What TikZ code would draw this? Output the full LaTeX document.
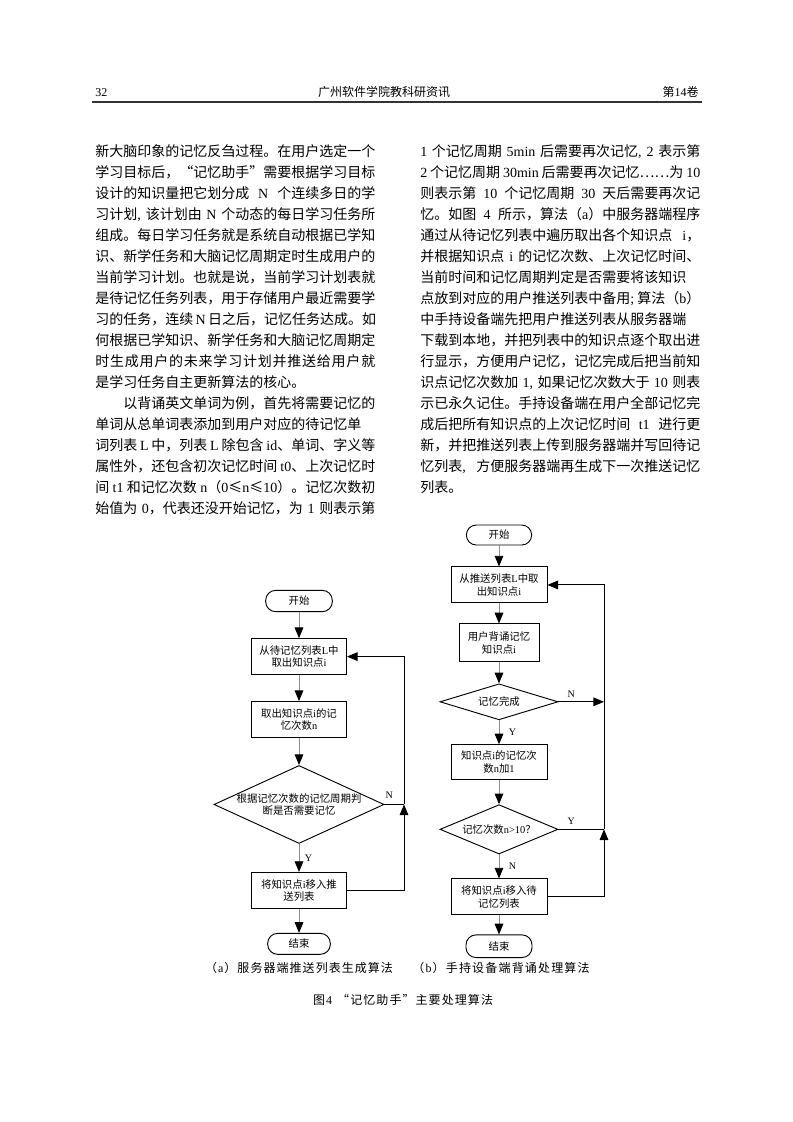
\documentclass[tikz,border=0pt]{standalone}
\usepackage{fontspec}
\setmainfont{Liberation Serif}
\newfontfamily\cjkfont{Noto Sans CJK SC}
\usetikzlibrary{positioning, shapes.geometric, arrows.meta}

% Chinese text in the CJK font, Latin text in the serif font
\XeTeXlinebreaklocale "zh"
\XeTeXlinebreakskip=0pt plus 1pt minus 0.15pt
\newXeTeXintercharclass\cjkclass
\makeatletter
\newcommand\cjkrange[2]{%
  \@tempcnta=#1\relax
  \loop
    \XeTeXcharclass\@tempcnta=\cjkclass
    \ifnum\@tempcnta<#2\relax
    \advance\@tempcnta\@ne
  \repeat}
% letter-spaced text: stretchable glue between all characters
\newcommand\spreadchars[1]{\spread@#1\@nil}
\def\spread@#1#2{#1\ifx#2\@nil\else\hskip 0pt plus 1fil\relax\expandafter\spread@\expandafter#2\fi}
\makeatother
\cjkrange{"3000}{"303F}
\cjkrange{"4E00}{"9FFF}
\cjkrange{"FF00}{"FFEF}
\XeTeXcharclass"201C=\cjkclass
\XeTeXcharclass"201D=\cjkclass
\XeTeXcharclass"2026=\cjkclass
\XeTeXcharclass"2264=\cjkclass
\XeTeXinterchartoks 0 \cjkclass = {\cjkfont}
\XeTeXinterchartoks 4095 \cjkclass = {\cjkfont}
\XeTeXinterchartoks \cjkclass 0 = {\rmfamily}
\XeTeXinterchartoks \cjkclass 4095 = {\rmfamily}
\XeTeXinterchartokenstate=1

\newcommand\bodyfont{\fontsize{10.5pt}{15.75pt}\selectfont}
\newcommand\chartfont{\fontsize{7.8pt}{9.4pt}\selectfont}
\newcommand\headfont{\fontsize{9pt}{11pt}\selectfont}

\begin{document}
\begin{tikzpicture}[x=0.75pt,y=-0.75pt,node distance=19.5pt,
    >={Triangle[length=8pt,width=6.5pt,color=black]}]
			\tikzstyle{terminal}=[draw,line width=0.7pt,rounded corners=7.5pt,minimum width=50pt,minimum height=16pt,inner sep=0pt,font=\chartfont]
			\tikzstyle{process}=[draw,line width=0.7pt,minimum width=71.25pt,minimum height=27pt,inner sep=0pt,align=center,font=\chartfont]
			\tikzstyle{decision}=[draw,line width=0.7pt,diamond,inner sep=0pt,align=center,font=\chartfont]
			\tikzstyle{flow}=[draw=black!45,line width=0.7pt,->]
			\tikzstyle{backline}=[draw,line width=0.7pt]
			\tikzstyle{yn}=[font=\fontsize{7.5pt}{9pt}\selectfont,inner sep=3pt]
			\tikzstyle{bodyline}=[anchor=base west,inner sep=0pt,font=\bodyfont]
			\tikzstyle{caption}=[inner sep=0pt,font=\headfont]
			
			\useasboundingbox (0,0) rectangle (793,1122);
			
			% page header
			\node[anchor=base west,inner sep=0pt,font=\headfont] (pageno) at (95,96) {32};
			\node[inner sep=0pt,font=\headfont] (journal) at (384,92) {广州软件学院教科研资讯};
			\node[anchor=base east,inner sep=0pt,font=\headfont] (volume) at (699,96) {第14卷};
			\draw[line width=1.1pt,black!80] (92,102) -- (702,102);
			
			% left column
			\foreach \txt [count=\k] in {
				{新大脑印象的记忆反刍过程。在用户选定一个},
				{学习目标后，“记忆助手”需要根据学习目标},
				{设计的知识量把它划分成 N 个连续多日的学},
				{习计划, 该计划由 N 个动态的每日学习任务所},
				{组成。每日学习任务就是系统自动根据已学知},
				{识、新学任务和大脑记忆周期定时生成用户的},
				{当前学习计划。也就是说，当前学习计划表就},
				{是待记忆任务列表，用于存储用户最近需要学},
				{习的任务，连续 N 日之后，记忆任务达成。如},
				{何根据已学知识、新学任务和大脑记忆周期定},
				{\spreadchars{时生成用户的未来学习计划并推送给用户就}},
				{是学习任务自主更新算法的核心。\hfill},
				{\hspace*{21pt}以背诵英文单词为例，首先将需要记忆的},
				{单词从总单词表添加到用户对应的待记忆单},
				{词列表 L 中，列表 L 除包含 id、单词、字义等},
				{属性外，还包含初次记忆时间 t0、上次记忆时},
				{间 t1 和记忆次数 n（0≤n≤10）。记忆次数初},
				{始值为 0，代表还没开始记忆，为 1 则表示第}}
				\node[bodyline] (leftline\k) at (95,{156+21*(\k-1)}) {\makebox[210pt][s]{\txt}};
			
			% right column
			\foreach \txt [count=\k] in {
				{1 个记忆周期 5min 后需要再次记忆, 2 表示第},
				{2 个记忆周期 30min 后需要再次记忆……为 10},
				{则表示第 10 个记忆周期 30 天后需要再次记},
				{忆。如图 4 所示，算法（a）中服务器端程序},
				{通过从待记忆列表中遍历取出各个知识点 i，},
				{并根据知识点 i 的记忆次数、上次记忆时间、},
				{当前时间和记忆周期判定是否需要将该知识},
				{点放到对应的用户推送列表中备用; 算法（b）},
				{中手持设备端先把用户推送列表从服务器端},
				{下载到本地，并把列表中的知识点逐个取出进},
				{行显示，方便用户记忆，记忆完成后把当前知},
				{识点记忆次数加 1, 如果记忆次数大于 10 则表},
				{示已永久记住。手持设备端在用户全部记忆完},
				{成后把所有知识点的上次记忆时间 t1 进行更},
				{新，并把推送列表上传到服务器端并写回待记},
				{忆列表, 方便服务器端再生成下一次推送记忆},
				{列表。\hfill}}
				\node[bodyline] (rightline\k) at (420,{156+21*(\k-1)}) {\makebox[210pt][s]{\txt}};
			
			% (a) server side
			\node[terminal] (startA) at (299,601) {开始};
			\node[process] (readA) [below=of startA] {从待记忆列表L中\\取出知识点i};
			\node[process] (countA) [below=of readA] {取出知识点i的记\\忆次数n};
			\node[decision,aspect=2.18,inner sep=-4pt,minimum width=127.5pt,minimum height=58.5pt] (checkA) [below=20.25pt of countA] {根据记忆次数的记忆周期判\\断是否需要记忆};
			\node[process] (moveA) [below=21pt of checkA] {将知识点i移入推\\送列表};
			\node[terminal,minimum width=47pt,minimum height=15.75pt] (endA) [below=18pt of moveA] {结束};
			\coordinate (joinA) at (checkA.east -| 404,0);
			
			\draw[flow] (startA) -- (readA);
			\draw[flow] (readA) -- (countA);
			\draw[flow] (countA) -- (checkA);
			\draw[flow] (checkA) -- node[yn,right,xshift=1pt] {Y} (moveA);
			\draw[flow] (moveA) -- (endA);
			\draw[backline] (checkA.east) -- node[yn,above,pos=0.25,yshift=1pt] {N} (joinA);
			\draw[backline,->] (joinA) |- (readA.east);
			\draw[backline,->] (moveA.east) -| (joinA);
			
			% (b) handheld side
			\node[terminal,minimum width=49pt,minimum height=15pt] (startB) at (499,535) {开始};
			\node[process,minimum width=72pt] (readB) [below=15.75pt of startB] {从推送列表L中取\\出知识点i};
			\node[process,minimum width=60pt,minimum height=28.5pt] (reciteB) [below=15pt of readB] {用户背诵记忆\\知识点i};
			\node[decision,aspect=3.28,minimum width=88.5pt,minimum height=27pt] (doneB) [below=15.75pt of reciteB] {记忆完成};
			\node[process,minimum width=72pt,minimum height=26.25pt] (incB) [below=18pt of doneB] {知识点i的记忆次\\数n加1};
			\node[decision,aspect=2.39,inner sep=-1pt,minimum width=88.5pt,minimum height=37pt] (overB) [below=18pt of incB] {记忆次数n>10？};
			\node[process,minimum width=72pt] (backB) [below=18pt of overB] {将知识点i移入待\\记忆列表};
			\node[terminal,minimum width=49.5pt,minimum height=17pt] (endB) [below=14.25pt of backB] {结束};
			\coordinate (joinB) at (overB.east -| 604,0);
			
			\draw[flow] (startB) -- (readB);
			\draw[flow] (readB) -- (reciteB);
			\draw[flow] (reciteB) -- (doneB);
			\draw[flow] (doneB) -- node[yn,right,xshift=4pt] {Y} (incB);
			\draw[flow] (incB) -- (overB);
			\draw[flow] (overB) -- node[yn,right,xshift=4pt] {N} (backB);
			\draw[flow] (backB) -- (endB);
			\draw[backline,->] (doneB.east) -- node[yn,above,pos=0.28] {N} (doneB.east -| joinB);
			\draw[backline] (overB.east) -- node[yn,above,pos=0.28] {Y} (joinB);
			\draw[backline,->] (joinB) |- (readB.east);
			\draw[backline,->] (backB.east) -| (joinB);
			
			% captions
			\node[caption] (capA) at (299,968) {\makebox[141pt][s]{\spreadchars{（a）服务器端推送列表生成算法}}};
			\node[caption] (capB) at (501,968) {\makebox[133pt][s]{\spreadchars{（b）手持设备端背诵处理算法}}};
			\node[caption] (capFig) at (403,1000) {\makebox[135pt][s]{\spreadchars{图4~“记忆助手”主要处理算法}}};
		\end{tikzpicture}
\end{document}
